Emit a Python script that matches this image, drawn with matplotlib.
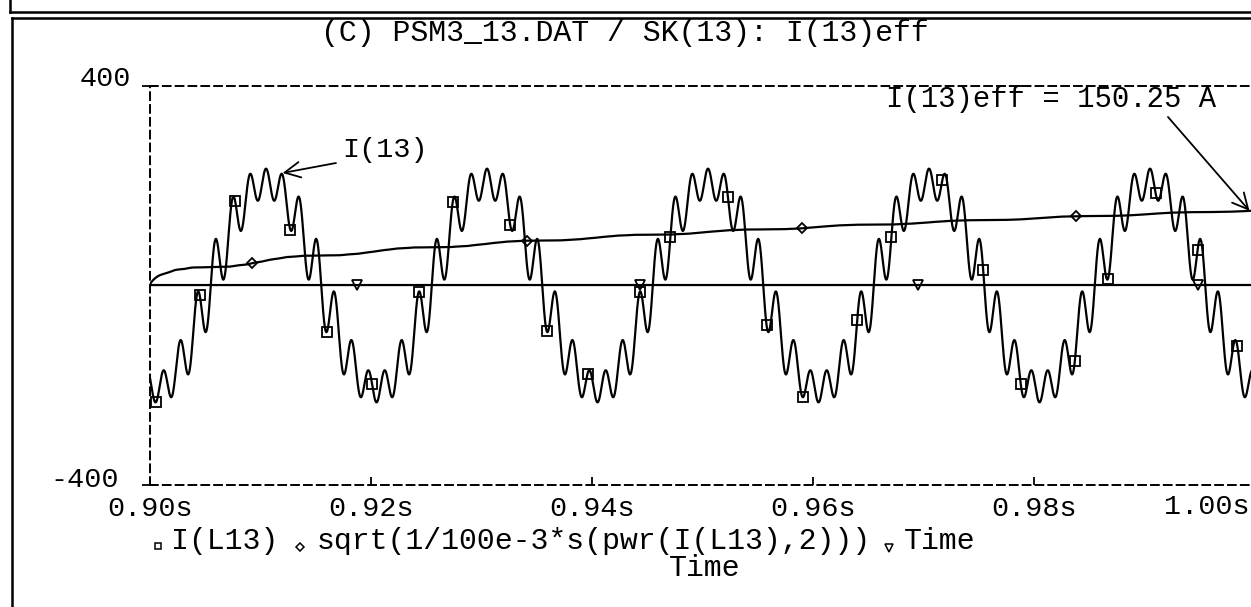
import numpy as np
import matplotlib
matplotlib.use('Agg')
import matplotlib.pyplot as plt
from matplotlib.lines import Line2D

plt.rcParams['font.family'] = ['Liberation Mono', 'DejaVu Sans Mono']

# ---- values ----
t_start, t_end = 0.90, 1.00
f_base = 50.0                  # Hz
harm_order = [1, 11, 13]
harm_amp = [206.3, 19.0, 47.0]     # A, peak values
harm_phase = [0.0, 180.0, 0.0]     # deg, relative to the crest
t_crest = 0.9105               # s, crest of the fundamental
window = 100e-3                # s, from sqrt(1/100e-3*s(...))
i_eff_text = 'I(13)eff = 150.25 A'

# marker positions (s)
sq_times = [0.9005, 0.9045, 0.9077, 0.9127, 0.9160, 0.9201, 0.9243, 0.9274,
            0.9326, 0.9359, 0.9396, 0.9443, 0.9471, 0.9523, 0.9558, 0.9591,
            0.9640, 0.9671, 0.9717, 0.9754, 0.9788, 0.9837, 0.9867, 0.9910,
            0.9948, 0.9984]
dia_times = [0.9092, 0.9341, 0.9590, 0.9838]
tri_times = [0.9187, 0.9443, 0.9695, 0.9948]

x_ticks = [0.90, 0.92, 0.94, 0.96, 0.98]
x_ticklabels = ['0.90s', '0.92s', '0.94s', '0.96s', '0.98s']
y_lim = (-400, 400)

title = '(C) PSM3_13.DAT / SK(13): I(13)eff'

# ---- traces ----
t = np.linspace(t_start, t_end, 6001)
i13 = np.zeros_like(t)
for n, a, p in zip(harm_order, harm_amp, harm_phase):
    i13 += a * np.cos(2 * np.pi * n * f_base * (t - t_crest) + np.radians(p))
sq = i13 ** 2
acc = np.concatenate([[0.0], np.cumsum(0.5 * (sq[1:] + sq[:-1]) * np.diff(t))])
i_rms = np.sqrt(acc / window)

W, H = 1251, 607


def fp(x, y):
    return (x / W, 1 - y / H)


fig = plt.figure(figsize=(W / 100, H / 100), dpi=100)
ax = fig.add_axes([150 / W, (H - 485) / H, (1255 - 150) / W, (485 - 86) / H])

lw = 1.6
ax.plot(t, i13, color='k', lw=lw)
ax.plot(t, i_rms, color='k', lw=lw)
ax.plot(t, t, color='k', lw=lw)

mk = dict(ls='none', mfc='none', mec='k', mew=1.3)
ax.plot(sq_times, np.interp(sq_times, t, i13), marker='s', ms=7, **mk)
ax.plot(dia_times, np.interp(dia_times, t, i_rms), marker='D', ms=5.5, **mk)
ax.plot(tri_times, np.interp(tri_times, t, t), marker='v', ms=7, **mk)

ax.set_xlim(t_start, t_end)
ax.set_ylim(*y_lim)
for s in ax.spines.values():
    s.set_linestyle((0, (4, 2.6)))
    s.set_linewidth(1.4)

ax.set_xticks(x_ticks)
ax.set_xticklabels(x_ticklabels)
ax.tick_params(axis='x', direction='in', length=6, width=1.3, pad=8, labelsize=20.5)
ax.set_yticks(list(y_lim))
ax.set_yticklabels([])
ax.tick_params(axis='y', direction='inout', length=12, width=1.3)

fig.text(*fp(1207, 507), '1.00s', ha='center', va='center', fontsize=20.5)
fig.text(*fp(131, 79), '400', ha='right', va='center', fontsize=20.5)
fig.text(*fp(119, 480), '-400', ha='right', va='center', fontsize=20.5)

fig.text(*fp(625, 33), title, ha='center', va='center', fontsize=21.5)

# legend row
fs_leg = 21.5
fig.text(*fp(171, 541), 'I(L13)', ha='left', va='center', fontsize=fs_leg)
fig.text(*fp(317, 541), 'sqrt(1/100e-3*s(pwr(I(L13),2)))', ha='left', va='center', fontsize=fs_leg)
fig.text(*fp(904, 541), 'Time', ha='left', va='center', fontsize=fs_leg)
for (x, y), m, s in [((158, 546), 's', 5), ((300, 547), 'D', 4.2), ((889, 548), 'v', 5.5)]:
    fig.add_artist(Line2D([x / W], [1 - y / H], marker=m, ms=s, mfc='none', mec='k', mew=1.1,
                          transform=fig.transFigure))
fig.text(*fp(705, 568), 'Time', ha='center', va='center', fontsize=fs_leg)

# annotations
fig.text(*fp(342, 150), 'I(13)', ha='left', va='center', fontsize=20.5)
ax.annotate('', xy=(0.9120, np.interp(0.9120, t, i13) + 4), xycoords='data',
            xytext=fp(336, 163), textcoords='figure fraction',
            arrowprops=dict(arrowstyle='->', lw=1.3, mutation_scale=28, shrinkA=0, shrinkB=0))
fig.text(*fp(886, 99), i_eff_text, ha='left', va='center', fontsize=20.8)
ax.annotate('', xy=(0.9995, np.interp(0.9995, t, i_rms)), xycoords='data',
            xytext=fp(1168, 117), textcoords='figure fraction',
            arrowprops=dict(arrowstyle='->', lw=1.3, mutation_scale=28, shrinkA=0, shrinkB=0))

# page frames
fl = dict(color='k', lw=1.8, transform=fig.transFigure)
fig.add_artist(Line2D([10 / W, 10 / W], [1, 1 - 11.5 / H], **fl))
fig.add_artist(Line2D([10 / W, 1], [1 - 11.5 / H, 1 - 11.5 / H], **fl))
fig.add_artist(Line2D([11.5 / W, 11.5 / W], [0, 1 - 17.5 / H], **fl))
fig.add_artist(Line2D([11.5 / W, 1], [1 - 17.5 / H, 1 - 17.5 / H], **fl))

fig.savefig('out.png', dpi=100)
